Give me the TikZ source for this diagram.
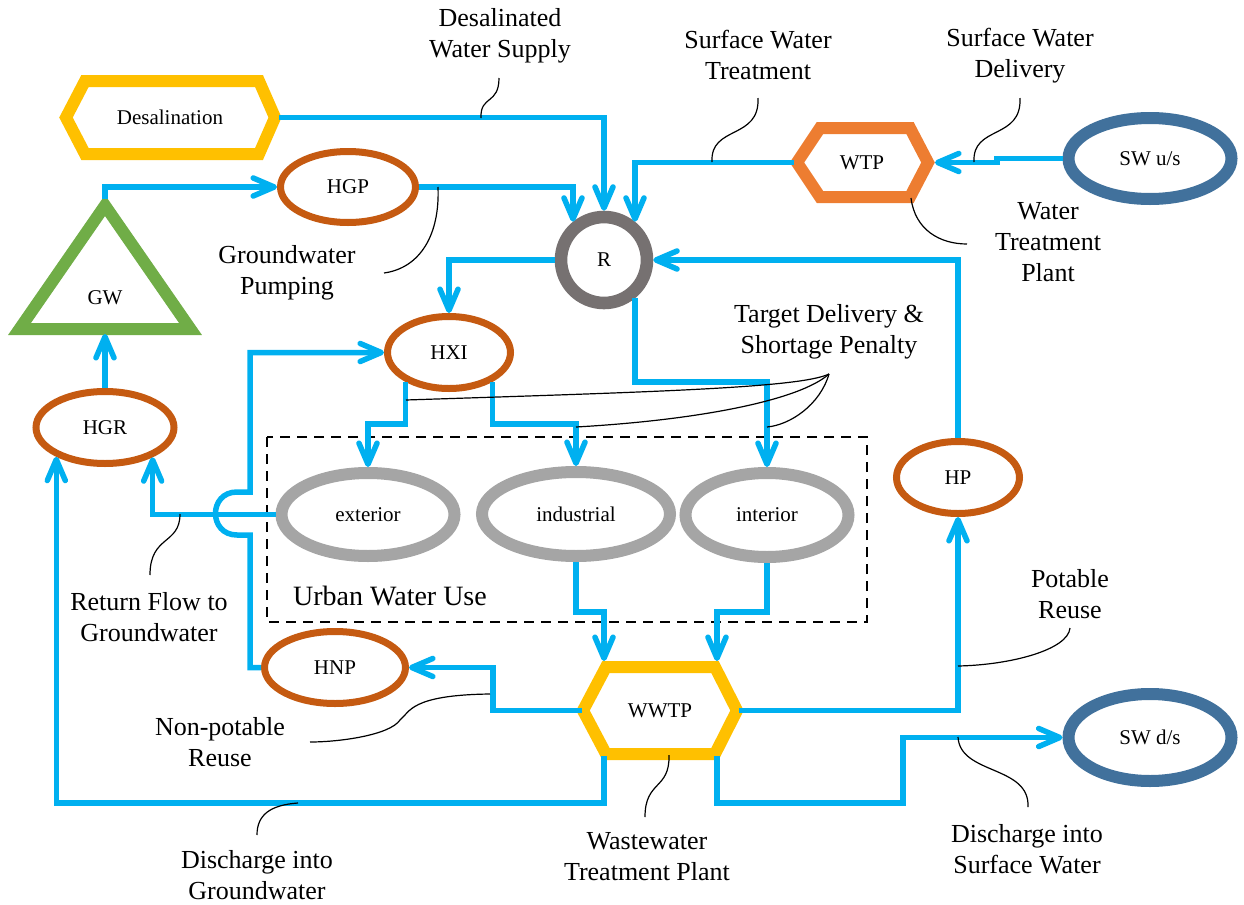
\documentclass[tikz,border=0pt]{standalone}
\usepackage{fontspec}
\setmainfont{Liberation Serif}
\usetikzlibrary{arrows.meta,shapes.geometric,calc}
\definecolor{flowblue}{HTML}{00B0F0}
\definecolor{plantgold}{HTML}{FFC000}
\definecolor{wtporange}{HTML}{ED7D31}
\definecolor{hubbrown}{HTML}{C55A11}
\definecolor{resgrey}{HTML}{767171}
\definecolor{demandgrey}{HTML}{A5A5A5}
\definecolor{riverblue}{HTML}{41719C}
\definecolor{gwgreen}{HTML}{70AD47}
\begin{document}
\begin{tikzpicture}[x=0.5pt,y=-0.5pt,
  hub/.style={ellipse, draw=hubbrown, line width=3.5pt, fill=white, inner sep=0pt,
              font=\fontsize{10.5}{12}\selectfont},
  demand/.style={ellipse, draw=demandgrey, line width=6pt, fill=white, inner sep=0pt,
              font=\fontsize{10.5}{12}\selectfont},
  river/.style={ellipse, draw=riverblue, line width=6pt, fill=white, inner sep=0pt,
              font=\fontsize{10.5}{12}\selectfont},
  plant/.style={line width=6pt, line join=miter},
  ptext/.style={inner sep=0pt, font=\fontsize{10.5}{12}\selectfont},
  pipe/.style={draw=flowblue, line width=2.75pt},
  flowarrow/.style={-{Straight Barb[length=10.5pt,width=9pt,round]}},
  lead/.style={draw=black, line width=0.6pt},
  lbl/.style={align=center, inner sep=0pt, font=\fontsize{13}{15.5}\selectfont}
]
\useasboundingbox (0,0) rectangle (1244,905);

% urban water use boundary
\draw[black, line width=1pt, dash pattern=on 5pt off 3.5pt] (267,437) rectangle (867,622);
\node[lbl, font=\fontsize{14}{16}\selectfont] (urban) at (390,596) {Urban Water Use};

% treatment plants (hexagons)
\draw[plant, draw=plantgold] (66,117.5) -- (85,81) -- (259,81) -- (275,117.5) -- (259,154) -- (85,154) -- cycle;
\node[ptext] (desal) at (170,117.5) {Desalination};
\coordinate (desalE) at (279,117.5);

\draw[plant, draw=wtporange] (797,162.5) -- (820,128) -- (910,128) -- (928,162.5) -- (910,197) -- (820,197) -- cycle;
\node[ptext] (wtp) at (862,163) {WTP};
\coordinate (wtpW) at (794,162.5);
\coordinate (wtpE) at (935,162.5);

\draw[plant, draw=plantgold] (583,710.5) -- (606,667) -- (715,667) -- (737,710.5) -- (715,754) -- (606,754) -- cycle;
\node[ptext] (wwtp) at (660,710.5) {WWTP};
\coordinate (wwtpW) at (582,710.5);
\coordinate (wwtpE) at (739,710.5);
\coordinate (wwtpTL) at (604,661);
\coordinate (wwtpTR) at (717,661);
\coordinate (wwtpBL) at (604,756);
\coordinate (wwtpBR) at (717,756);

% groundwater aquifer
\draw[plant, draw=gwgreen] (105,205.5) -- (19.5,329) -- (190.5,329) -- cycle;
\node[ptext] (gw) at (105,298) {GW};
\coordinate (gwTop) at (105,199);
\coordinate (gwBase) at (105,334);

% reservoir
\node[circle, draw=resgrey, line width=6.3pt, fill=white, inner sep=0pt, minimum size=43pt,
      font=\fontsize{10.5}{12}\selectfont] (R) at (604,260) {R};

% hubs
\node[hub, minimum width=67.5pt, minimum height=35.5pt] (HGP) at (348,187) {HGP};
\node[hub, minimum width=69pt, minimum height=36pt] (HGR) at (105,427.5) {HGR};
\node[hub, minimum width=61.5pt, minimum height=36pt] (HXI) at (449,352.5) {HXI};
\node[hub, minimum width=61.5pt, minimum height=36pt] (HP) at (958,477.5) {HP};
\node[hub, minimum width=70.5pt, minimum height=36pt] (HNP) at (335,667.5) {HNP};

% demands
\node[demand, minimum width=86.5pt, minimum height=41.5pt] (exterior) at (368,514.5) {exterior};
\node[demand, minimum width=94pt, minimum height=42pt] (industrial) at (576,514) {industrial};
\node[demand, minimum width=81.5pt, minimum height=42pt] (interior) at (767,515) {interior};

% surface water
\node[river, minimum width=81.5pt, minimum height=40.5pt] (swu) at (1150,158.5) {SW u/s};
\node[river, minimum width=81.5pt, minimum height=43.5pt] (swd) at (1150,737.5) {SW d/s};

% flows
\draw[pipe,flowarrow] (desalE) -| (R.north);
\draw[pipe,flowarrow] (HGP.east) -| (R.129);
\draw[pipe,flowarrow] (wtpW) -| (R.51);
\draw[pipe,flowarrow] (swu.west) -- (997,158.5) -- (997,162.5) -- (wtpE);
\draw[pipe,flowarrow] (R.west) -| (HXI.north);
\draw[pipe,flowarrow] (R.-51) -- (R.-51 |- 0,382) -| (interior.north);
\draw[pipe,flowarrow] (HP.north) |- (R.east);
\draw[pipe,flowarrow] (HXI.214.5) -- (HXI.214.5 |- 0,424) -| (exterior.north);
\draw[pipe,flowarrow] (HXI.326.5) -- (HXI.326.5 |- 0,424) -| (industrial.north);
\draw[pipe,flowarrow] (exterior.west) -| (HGR.328.3);
\draw[pipe,flowarrow] (wwtpBL) -- (wwtpBL |- 0,803) -| (HGR.211.7);
\draw[pipe,flowarrow] (HGR.north) -- (gwBase);
\draw[pipe,flowarrow] (gwTop) |- (HGP.west);
\draw[pipe,flowarrow] (HNP.west) -| (250,535) -- (237,535)
      .. controls (208.3,535) and (208.3,492) .. (237,492) -- (250,492) |- (HXI.west);
\draw[pipe,flowarrow] (wwtpW) -- (493,710.5) |- (HNP.east);
\draw[pipe,flowarrow] (wwtpE) -| (HP.south);
\draw[pipe,flowarrow] (wwtpBR) -- (wwtpBR |- 0,803) -- (903,803) |- (swd.west);
\draw[pipe,flowarrow] (industrial.south) -- (industrial.south |- 0,612) -| (wwtpTL);
\draw[pipe,flowarrow] (interior.south) -- (interior.south |- 0,612) -| (wwtpTR);

% flow labels
\node[lbl] (lDesal) at (500,36) {Desalinated\\Water Supply};
\node[lbl] (lSWT) at (758,55) {Surface Water\\Treatment};
\node[lbl] (lSWD) at (1020,56) {Surface Water\\Delivery};
\node[lbl] (lGWP) at (287,273) {Groundwater\\Pumping};
\node[lbl] (lWTP) at (1048,242) {Water\\Treatment\\Plant};
\node[lbl] (lTarget) at (829,332) {Target Delivery \&\\Shortage Penalty};
\node[lbl] (lReturn) at (149,617) {Return Flow to\\Groundwater};
\node[lbl] (lPotable) at (1070,594) {Potable\\Reuse};
\node[lbl] (lNonPot) at (220,742) {Non-potable\\Reuse};
\node[lbl] (lDisGW) at (257,875) {Discharge into\\Groundwater};
\node[lbl] (lWWTP) at (647,857) {Wastewater\\Treatment Plant};
\node[lbl] (lDisSW) at (1027,849) {Discharge into\\Surface Water};

% label leaders
\coordinate (tj) at (829,374);
\draw[lead] (481,118) .. controls (480,95) and (499,105) .. (499,78);
\draw[lead] (712,162) .. controls (710,125) and (760,140) .. (758,98);
\draw[lead] (974,162) .. controls (972,125) and (1022,140) .. (1020,98);
\draw[lead] (911,198) .. controls (915,230) and (940,244) .. (967,244);
\draw[lead] (438,187) .. controls (440,235) and (420,268) .. (384,273);
\draw[lead] (tj) .. controls (800,388) and (650,392) .. (406,400);
\draw[lead] (tj) .. controls (800,400) and (700,420) .. (576,427);
\draw[lead] (tj) .. controls (820,405) and (790,425) .. (767,427);
\draw[lead] (180,514) .. controls (180,545) and (150,535) .. (150,575);
\draw[lead] (490,694) .. controls (410,695) and (410,712) .. (400,720)
      .. controls (390,735) and (340,742) .. (310,742);
\draw[lead] (298,803) .. controls (270,805) and (257,815) .. (257,835);
\draw[lead] (669,755) .. controls (670,790) and (645,780) .. (645,817);
\draw[lead] (958,666) .. controls (1010,665) and (1068,650) .. (1070,628);
\draw[lead] (958,737) .. controls (960,775) and (1030,765) .. (1028,807);
\end{tikzpicture}
\end{document}
